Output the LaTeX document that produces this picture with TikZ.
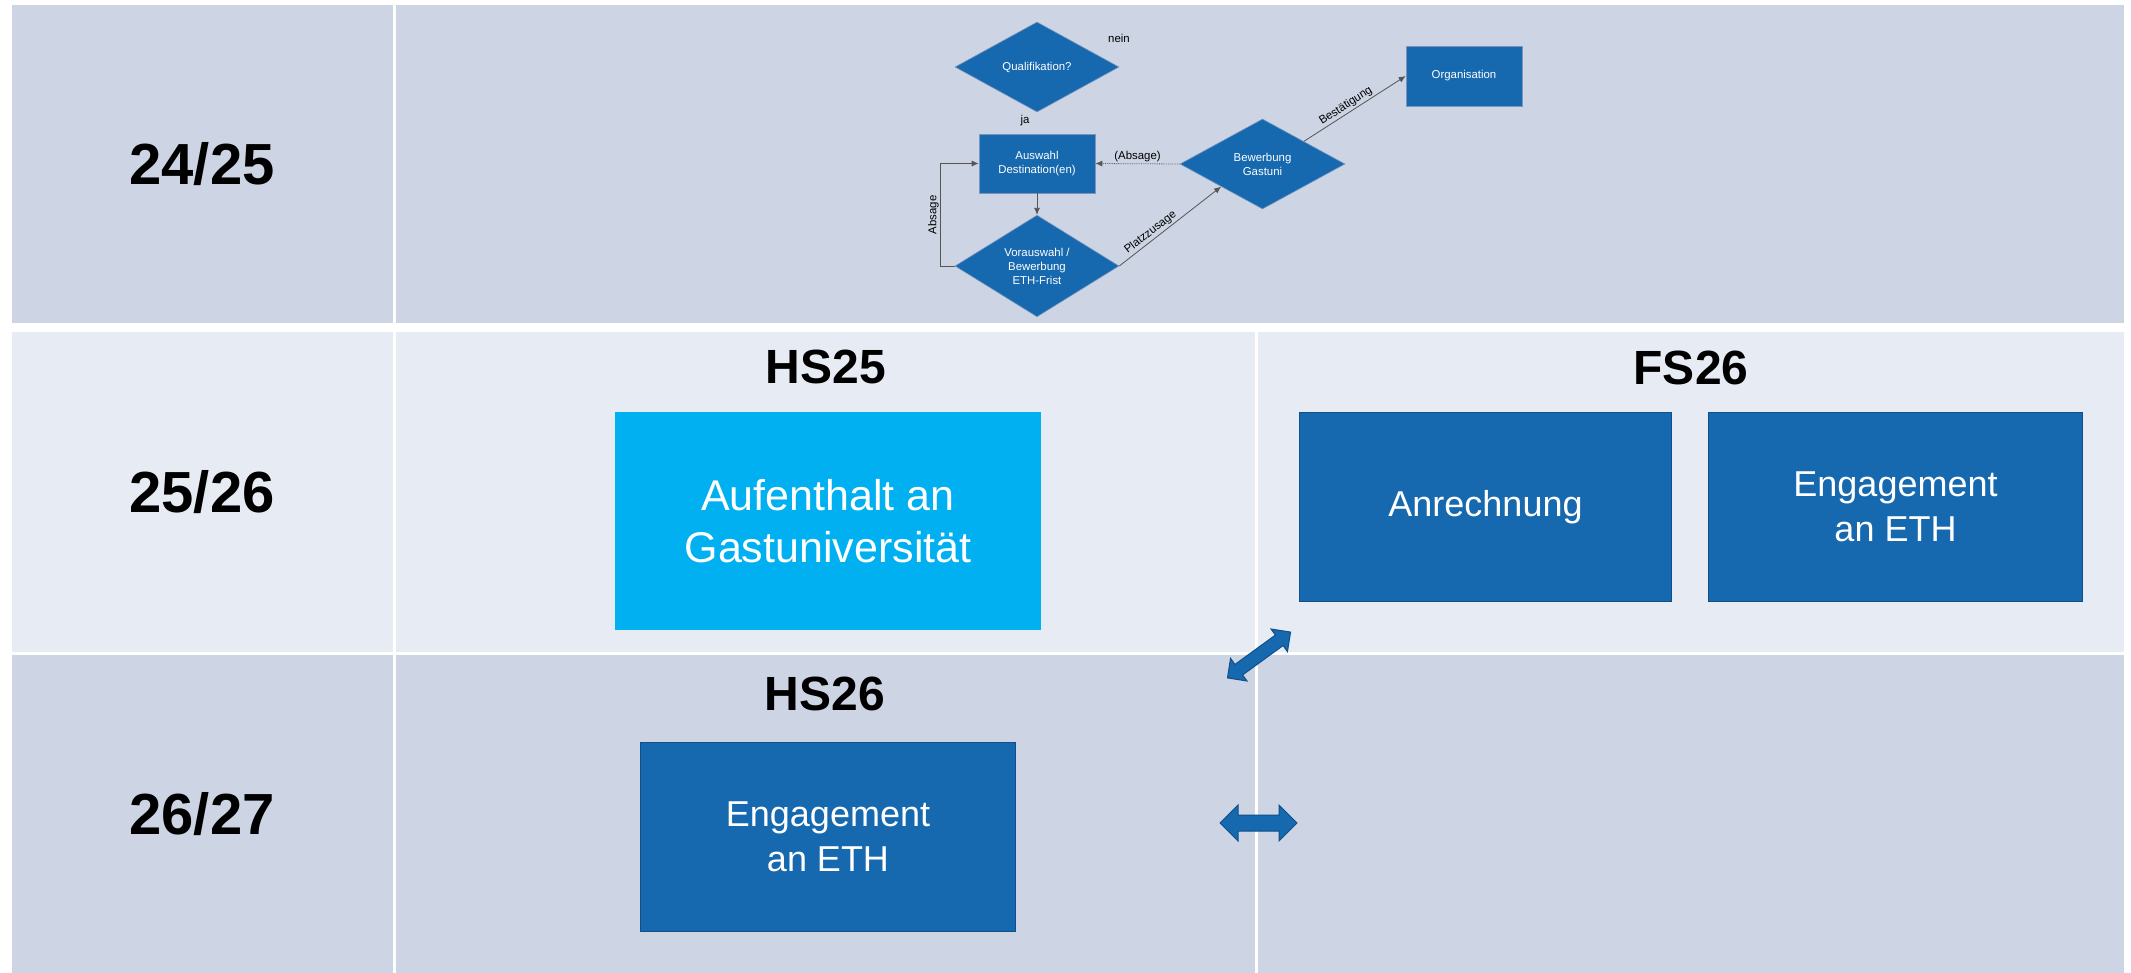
\documentclass[tikz,border=0pt]{standalone}
\usepackage{fontspec}
\setmainfont{Liberation Sans}
\usetikzlibrary{shapes.geometric}
\usetikzlibrary{shapes.arrows}
\usetikzlibrary{arrows.meta}
\definecolor{rowdark}{RGB}{205,212,227}
\definecolor{rowlight}{RGB}{231,235,243}
\definecolor{blockblue}{RGB}{22,104,175}
\definecolor{blockedge}{RGB}{16,80,138}
\definecolor{stayblue}{RGB}{0,176,240}
\definecolor{flowedge}{RGB}{120,150,190}
\definecolor{flowline}{RGB}{85,85,85}
\tikzstyle{year}=[font=\fontsize{58}{70}\selectfont\bfseries]
\tikzstyle{term}=[font=\fontsize{48}{58}\selectfont\bfseries]
\tikzstyle{block}=[draw=blockedge, line width=1.5pt, fill=blockblue, text=white, align=center, font=\fontsize{36}{45}\selectfont]
\tikzstyle{stay}=[fill=stayblue, text=white, align=center, font=\fontsize{43}{52}\selectfont]
\tikzstyle{swaparrow}=[double arrow, draw=blockedge, fill=blockblue, line width=1pt, inner xsep=0pt]
\tikzstyle{flowbox}=[draw=flowedge, line width=0.6pt, fill=blockblue, text=white, align=center, inner sep=0pt, font=\fontsize{11.4}{14}\selectfont]
\tikzstyle{flowdia}=[flowbox, diamond, minimum width=164pt, minimum height=90pt]
\tikzstyle{flowlabel}=[font=\fontsize{11.4}{14}\selectfont, inner sep=1.5pt]
\tikzstyle{flowarrow}=[draw=flowline, line width=0.8pt, -{Latex[length=7pt,width=6pt]}]

\begin{document}
\begin{tikzpicture}[x=1pt, y=-1pt]
  \useasboundingbox (0,0) rectangle (2131,973);
  \fill[white] (0,0) rectangle (2131,973);
  % table cells
  \fill[rowdark] (12,5) rectangle (393,323);
  \fill[rowdark] (396,5) rectangle (2124,323);
  \fill[rowlight] (12,332) rectangle (393,652);
  \fill[rowlight] (396,332) rectangle (1255,652);
  \fill[rowlight] (1258,332) rectangle (2124,652);
  \fill[rowdark] (12,655) rectangle (393,973);
  \fill[rowdark] (396,655) rectangle (1255,973);
  \fill[rowdark] (1258,655) rectangle (2124,973);

  \node[year] (y2425) at (202,164) {24/25};
  \node[year] (y2526) at (202,492) {25/26};
  \node[year] (y2627) at (202,814) {26/27};

  \node[term] (hs25) at (826,367) {HS25};
  \node[term] (fs26) at (1691,368) {FS26};
  \node[term] (hs26) at (825,694) {HS26};

  \node[stay, minimum width=426pt, minimum height=218pt] (stay) at (828,521) {Aufenthalt an\\Gastuniversität};
  \node[block, minimum width=372pt, minimum height=189pt] (anr) at (1485.5,507) {Anrechnung};
  \node[block, minimum width=374pt, minimum height=189pt] (engfs) at (1895.5,507) {Engagement\\an ETH};
  \node[block, minimum width=375pt, minimum height=189pt] (enghs) at (828,837) {Engagement\\an ETH};

  \node[swaparrow, minimum height=77pt, inner ysep=7.5pt, double arrow head extend=10pt] (swapa) at (1258.5,823) {};
  \node[swaparrow, rotate=36, minimum height=78pt, inner ysep=6pt, double arrow head extend=7.5pt] (swapb) at (1259,655) {};

  % flowchart
  \node[flowdia] (qual) at (1037,67) {Qualifikation?};
  \node[flowlabel] (nein) at (1119,38) {nein};
  \node[flowlabel] (ja) at (1025,121) {ja};
  \node[flowbox, minimum width=116pt, minimum height=59pt] (ausw) at (1037,163.5) {Auswahl\\Destination(en)};
  \node[flowdia] (vor) at (1037,266) {Vorauswahl /\\Bewerbung\\ETH-Frist};
  \node[flowdia, minimum width=165pt] (bew) at (1262.5,164) {Bewerbung\\Gastuni};
  \node[flowbox, minimum width=116pt, minimum height=60pt] (org) at (1464,76) {Organisation};

  \draw[flowarrow] (ausw) -- (vor);
  \draw[flowarrow] (vor.west) -- ++(-14,0) |- node[flowlabel, pos=0.25, sloped, above] {Absage} (ausw.west);
  \draw[flowarrow] (vor.east) -- node[flowlabel, pos=0.35, sloped, above] {Platzzusage} (bew.south west);
  \draw[flowarrow, densely dotted] (bew.west) -- node[flowlabel, above] {(Absage)} (ausw.east);
  \draw[flowarrow] (bew.north east) -- node[flowlabel, pos=0.45, sloped, above] {Bestätigung} (org.west);
\end{tikzpicture}
\end{document}
